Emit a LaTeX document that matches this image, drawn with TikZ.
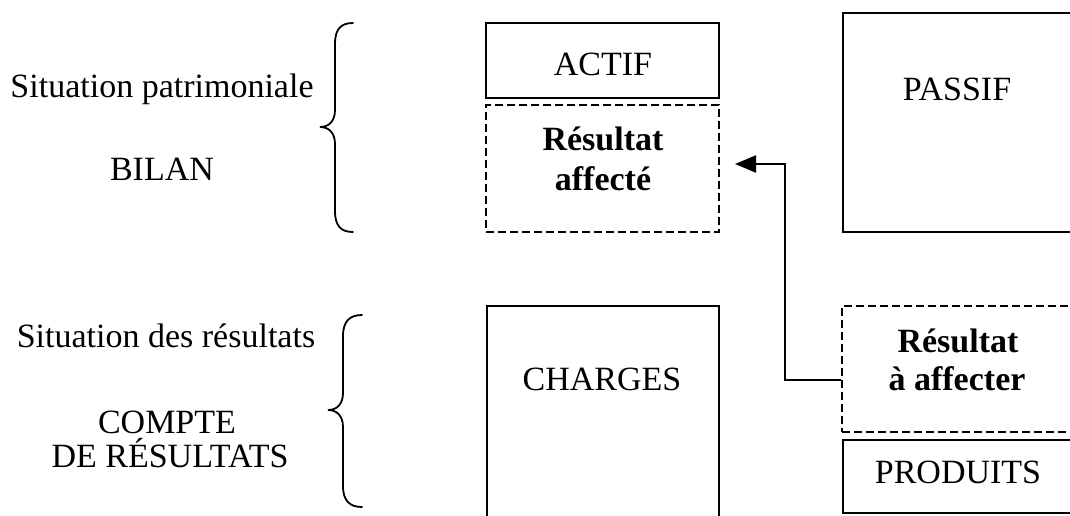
\documentclass[tikz,border=0pt]{standalone}
\usepackage{fontspec}
\setmainfont{Liberation Serif}
\usetikzlibrary{arrows.meta}
\begin{document}
\begin{tikzpicture}[x=1pt,y=-1pt,
  every node/.style={font=\fontsize{34}{39}\selectfont},
  box/.style={draw, line width=2.4pt, rectangle, inner sep=0pt},
  dbox/.style={box, line width=2.2pt, dash pattern=on 8pt off 4pt},
  lbl/.style={anchor=base, inner sep=0pt},
  blbl/.style={lbl, font=\fontsize{34}{39}\selectfont\bfseries},
  brace/.style={line width=1.8pt, line cap=round},
  link/.style={line width=2.2pt, -{Triangle[length=21pt,width=17pt]}}]
\useasboundingbox (0,0) rectangle (1070,515);
\clip (0,0) rectangle (1070,515);

% Bilan boxes
\node[box, minimum width=233pt, minimum height=75pt] (actif) at (602.5,60.5) {};
\node[dbox, minimum width=233pt, minimum height=127pt] (raff) at (602.5,168.5) {};
\node[box, minimum width=247pt, minimum height=219pt] (passif) at (966.5,122.5) {};

% Compte de resultat boxes
\node[box, minimum width=232pt, minimum height=224pt] (charges) at (603,418) {};
\node[dbox, minimum width=248pt, minimum height=126pt] (raaff) at (966,369) {};
\node[box, minimum width=247pt, minimum height=73pt] (produits) at (966.5,476.5) {};

% Box texts
\node[lbl] (tactif) at (603,75) {ACTIF};
\node[blbl] (traff1) at (603,150) {Résultat};
\node[blbl] (traff2) at (603,190) {affecté};
\node[lbl] (tpassif) at (957,100) {PASSIF};
\node[lbl] (tcharges) at (602,390) {CHARGES};
\node[blbl] (traaff1) at (958,352) {Résultat};
\node[blbl] (traaff2) at (957,390) {à affecter};
\node[lbl] (tproduits) at (958,483) {PRODUITS};

% Left-hand captions
\node[lbl] (sitpat) at (162,97) {Situation patrimoniale};
\node[lbl] (bilan) at (162,180) {BILAN};
\node[lbl] (sitres) at (166,347) {Situation des résultats};
\node[lbl] (compte) at (167,433) {COMPTE};
\node[lbl] (deres) at (170,467) {DE RÉSULTATS};

% Curly braces
\draw[brace] (353,23) .. controls (341,23) and (335,29) .. (335,44)
  -- (335,110) .. controls (335,121) and (329,127) .. (320,127)
  .. controls (329,127) and (335,133) .. (335,144)
  -- (335,211) .. controls (335,226) and (341,232) .. (353,232);
\draw[brace] (362,315) .. controls (350,315) and (343,321) .. (343,336)
  -- (343,393) .. controls (343,404) and (337,410) .. (328,410)
  .. controls (337,410) and (343,416) .. (343,427)
  -- (343,486) .. controls (343,501) and (350,507) .. (362,507);

% Allocation of the result
\coordinate (bend1) at (785,380);
\coordinate (bend2) at (785,164);
\coordinate (tip) at (735,164);
\draw[link] (raaff.west |- bend1) -- (bend1) -- (bend2) -- (tip);
\end{tikzpicture}
\end{document}
